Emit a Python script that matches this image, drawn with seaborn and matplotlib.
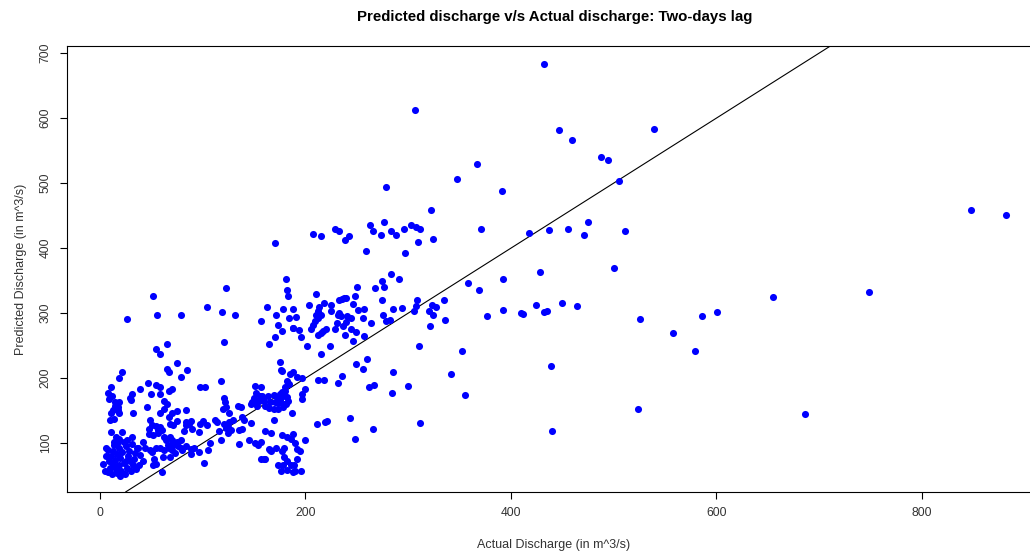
import matplotlib
matplotlib.use("Agg")
import matplotlib.pyplot as plt
import numpy as np
import pandas as pd
import seaborn as sns

# (actual, predicted) discharge pairs in m^3/s, grouped by region of the scatter
high_flow = [
    (432, 684), (307, 612), (447, 582), (460, 566), (539, 584), (488, 540), (495, 535),
    (505, 503), (367, 530), (348, 506), (278, 494), (391, 488), (322, 459), (277, 441),
    (475, 440), (263, 435), (266, 427), (274, 420), (283, 426), (288, 420), (296, 429),
    (303, 435), (308, 433), (312, 429), (310, 410), (324, 414), (259, 396), (297, 392),
    (371, 429), (418, 423), (437, 428), (456, 429), (471, 420), (511, 427), (500, 369),
    (428, 364), (392, 353), (358, 347), (369, 336), (283, 360), (291, 352), (275, 349),
    (268, 339), (277, 340), (275, 321), (309, 321), (335, 321), (257, 307), (285, 307),
    (294, 308), (308, 311), (306, 304), (323, 312), (327, 310), (320, 303), (324, 298),
    (256, 293), (276, 298), (278, 288), (282, 290), (264, 285), (336, 289), (321, 280),
    (377, 295), (392, 305), (410, 300), (412, 299), (424, 312), (432, 302), (435, 303),
    (450, 315), (464, 311), (526, 291), (257, 265), (311, 249), (352, 242), (260, 229),
    (256, 214), (285, 210), (439, 219), (342, 207), (262, 186), (267, 190), (300, 188),
    (284, 177), (355, 174), (524, 152), (266, 122), (312, 131), (440, 119),
    (848, 458), (882, 451), (749, 332), (655, 325), (601, 302), (586, 295), (558, 269),
    (579, 242), (686, 145),
    (207, 422), (215, 419), (229, 430), (233, 426), (242, 418), (239, 413),
]

mid_upper = [
    (181, 353), (182, 336), (183, 326), (123, 339), (104, 309), (119, 302), (132, 297),
    (121, 255), (163, 309), (157, 288), (171, 298), (178, 307), (188, 306), (184, 293),
    (191, 294), (173, 282), (188, 277), (177, 273), (170, 264), (194, 274), (165, 252),
    (175, 225), (176, 213), (52, 326), (56, 297), (79, 298), (26, 291), (65, 252),
    (55, 245), (59, 237), (75, 224), (65, 214), (85, 213), (170, 408),
]

band_200_250 = [
    (250, 340), (210, 329), (248, 326), (238, 324), (240, 324), (236, 322), (218, 316),
    (225, 313), (204, 313), (213, 310), (233, 320), (246, 314), (212, 303), (210, 298),
    (215, 298), (212, 292), (209, 288), (207, 282), (205, 276), (225, 303), (233, 300),
    (232, 298), (235, 296), (241, 295), (244, 293), (251, 305), (188, 278), (196, 263),
    (202, 249), (220, 276), (217, 272), (215, 269), (212, 267), (231, 285), (240, 286),
    (237, 280), (229, 275), (244, 276), (249, 271), (239, 266), (246, 258), (224, 249),
    (215, 238), (249, 222),
]

cluster_180 = [
    (177, 211), (188, 209), (185, 206), (192, 202), (197, 201), (212, 197), (218, 197),
    (236, 203), (232, 192), (182, 195), (180, 187), (184, 191), (177, 179), (180, 180),
    (175, 175), (178, 172), (157, 187), (158, 172), (164, 172), (169, 174), (173, 171),
    (175, 166), (182, 171), (183, 165), (160, 165), (166, 164), (170, 163), (173, 162),
    (179, 161), (161, 157), (165, 154), (169, 152), (173, 152), (178, 155), (181, 161),
    (197, 176), (200, 183), (197, 168), (187, 147), (169, 135), (211, 129), (219, 132),
    (221, 134), (243, 139), (248, 106), (161, 119), (167, 115), (177, 112), (182, 109),
    (188, 114), (186, 106), (190, 101), (200, 105), (157, 102), (165, 91), (167, 88),
    (179, 93), (177, 88), (192, 91), (195, 88), (160, 76), (179, 79), (182, 72),
    (192, 75), (189, 67), (173, 67), (178, 66), (186, 66), (176, 58), (182, 59),
    (188, 56), (190, 58), (196, 58),
]

cluster_120 = [
    (118, 196), (97, 187), (102, 187), (151, 188), (121, 170), (122, 164), (123, 155),
    (126, 147), (120, 152), (134, 157), (137, 155), (138, 141), (147, 131), (140, 136),
    (148, 163), (152, 162), (138, 122), (135, 120), (130, 135), (126, 132), (121, 130),
    (125, 125), (123, 123), (128, 120), (125, 115), (112, 135), (114, 133), (116, 119),
    (100, 134), (97, 130), (104, 128), (96, 117), (90, 122), (89, 134), (107, 100),
    (118, 105), (105, 90), (96, 86), (92, 92), (89, 91), (135, 99), (145, 105),
    (151, 100), (154, 97), (101, 69), (166, 89), (157, 75), (161, 76), (171, 93),
    (152, 178), (156, 173), (158, 170), (150, 170), (155, 165), (153, 158), (147, 160),
]

cluster_50 = [
    (67, 210), (22, 209), (19, 200), (79, 202), (47, 193), (55, 189), (59, 187),
    (11, 187), (39, 183), (70, 183), (67, 180), (50, 175), (59, 175), (31, 176),
    (29, 169), (30, 166), (8, 178), (9, 168), (12, 172), (15, 164), (19, 164),
    (18, 155), (15, 158), (13, 151), (18, 151), (11, 147), (19, 146), (62, 165),
    (65, 161), (62, 152), (46, 156), (32, 146), (59, 146), (70, 146), (75, 150),
    (84, 151), (67, 140), (75, 134), (49, 135), (14, 138), (10, 135), (68, 130),
    (71, 128), (84, 133), (87, 130), (84, 128), (51, 128), (55, 127), (59, 125),
    (48, 122), (60, 120), (57, 120), (82, 119), (11, 117), (22, 117), (16, 110),
    (19, 106), (18, 102), (14, 102), (23, 102), (31, 109), (26, 105), (48, 114),
    (52, 112), (57, 116), (62, 110), (64, 105), (68, 110), (70, 105), (66, 98),
    (71, 97), (75, 102), (79, 105), (42, 102), (37, 93), (44, 92), (49, 89),
    (51, 86), (55, 93), (59, 93), (62, 90), (67, 93), (70, 90), (73, 85),
    (76, 95), (79, 92), (80, 89), (84, 95), (89, 84), (61, 79), (53, 76),
    (52, 66), (68, 79), (60, 56), (55, 68), (6, 92),
]

cluster_low = [
    (5, 58), (8, 55), (10, 62), (12, 52), (13, 68), (15, 74), (16, 60), (17, 54),
    (19, 66), (20, 77), (21, 57), (23, 70), (24, 53), (26, 62), (27, 80), (29, 72),
    (30, 58), (32, 67), (33, 76), (35, 61), (38, 66), (9, 72), (11, 80), (13, 88),
    (17, 84), (19, 93), (22, 87), (25, 96), (28, 88), (31, 99), (34, 85), (39, 82),
    (6, 80), (8, 90), (3, 68), (20, 50), (25, 72), (36, 93), (14, 97), (42, 73),
]

x_ticks = [0, 200, 400, 600, 800]
y_ticks = [100, 200, 300, 400, 500, 600, 700]

pairs = high_flow + mid_upper + band_200_250 + cluster_180 + cluster_120 + cluster_50 + cluster_low
df = pd.DataFrame(pairs, columns=["actual", "predicted"])

sns.set_style("white")
plt.rcParams["font.family"] = ["Liberation Sans", "DejaVu Sans"]

fig = plt.figure(figsize=(10.30, 5.56), dpi=100)
ax = fig.add_axes([67 / 1030, 1 - 492 / 556, (1041 - 67) / 1030, (492 - 46) / 556])

sns.scatterplot(data=df, x="actual", y="predicted", color="#0000FF", s=26,
                linewidth=0, legend=False, ax=ax, zorder=3)
ax.axline((0, 0), slope=1, color="black", lw=0.8, zorder=2)

ax.set_xlim(-32, 916)
ax.set_ylim(25, 711)
ax.set_xticks(x_ticks)
ax.set_yticks(y_ticks)

for sp in ax.spines.values():
    sp.set_visible(True)
    sp.set_color("black")
    sp.set_linewidth(0.8)

ax.tick_params(direction="out", length=5, width=0.8, color="black",
               labelsize=8.7, labelcolor="#333333", pad=6,
               bottom=True, left=True)
for lab in ax.get_yticklabels():
    lab.set_rotation(90)
    lab.set_va("center")

ax.set_xlabel("Actual Discharge (in m^3/s)", fontsize=9, color="#333333", labelpad=14)
ax.set_ylabel("Predicted Discharge (in m^3/s)", fontsize=9, color="#333333", labelpad=9)

fig.text(555 / 1030, 1 - 17 / 556, "Predicted discharge v/s Actual discharge: Two-days lag",
         ha="center", va="center", fontsize=10.8, fontweight="bold", color="black")

fig.savefig("out.png", dpi=100)
